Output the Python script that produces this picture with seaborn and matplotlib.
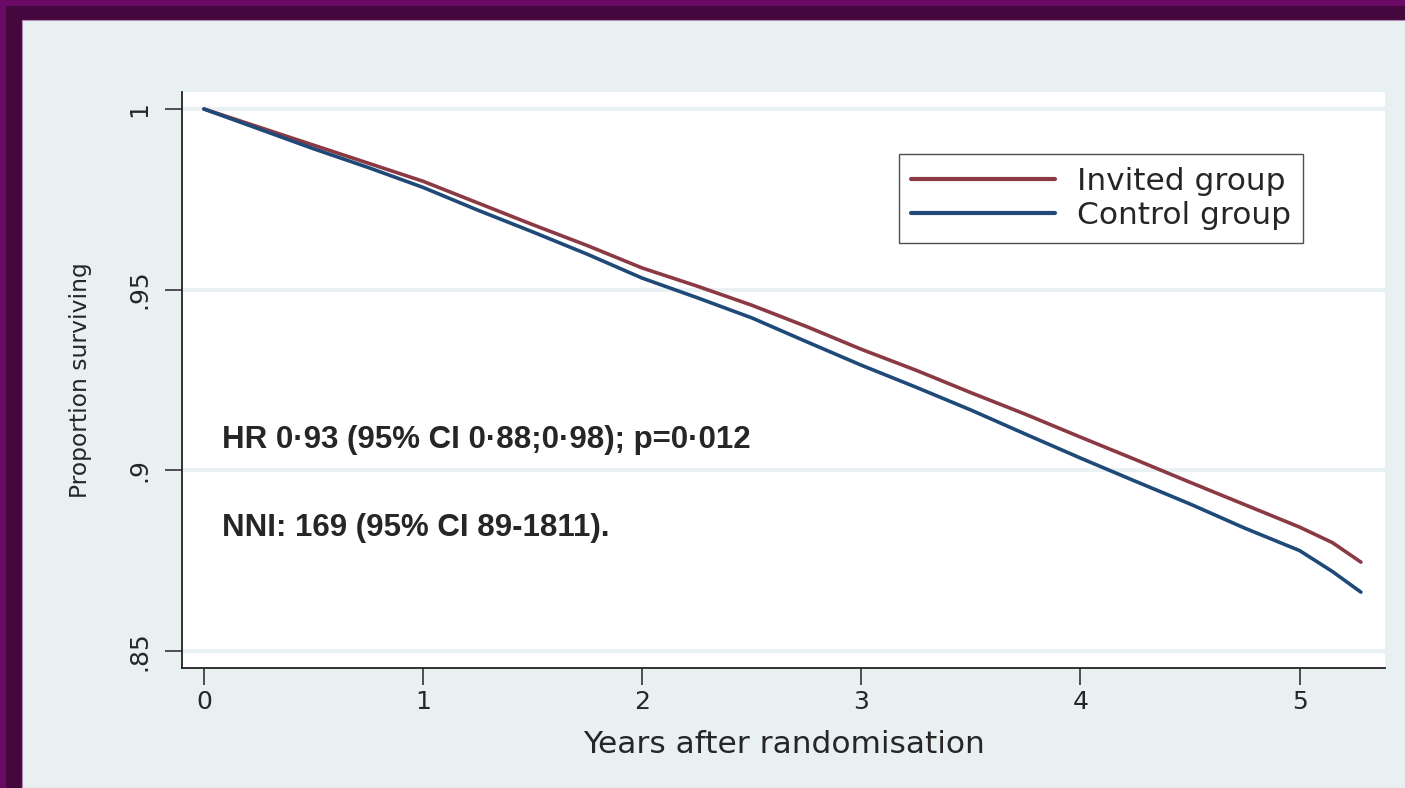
"""
Curvas de sobrevida - grupo convidado vs controle
"""

import pandas as pd
import seaborn as sns
import matplotlib.pyplot as plt
from matplotlib.patches import Rectangle

# valores
anos = [0, 0.25, 0.5, 0.75, 1, 1.25, 1.5, 1.75, 2, 2.25, 2.5, 2.75, 3,
        3.25, 3.5, 3.75, 4, 4.25, 4.5, 4.75, 5, 5.15, 5.28]
convidado = [1.000, 0.9950, 0.9900, 0.9850, 0.9800, 0.9740, 0.9680, 0.9622,
             0.9560, 0.9510, 0.9457, 0.9398, 0.9335, 0.9277, 0.9215, 0.9155,
             0.9092, 0.9030, 0.8967, 0.8905, 0.8843, 0.8800, 0.8746]
controle = [1.000, 0.9945, 0.9890, 0.9838, 0.9783, 0.9720, 0.9660, 0.9598,
            0.9532, 0.9478, 0.9422, 0.9356, 0.9291, 0.9230, 0.9167, 0.9100,
            0.9034, 0.8970, 0.8907, 0.8840, 0.8778, 0.8720, 0.8663]
grupos = ['Invited group', 'Control group']
yticks = [0.85, 0.9, 0.95, 1]
yticklabels = ['.85', '.9', '.95', '1']
xticks = [0, 1, 2, 3, 4, 5]

df = pd.DataFrame({
    'anos': anos * 2,
    'prop': convidado + controle,
    'grupo': [grupos[0]] * len(anos) + [grupos[1]] * len(anos)
})

sns.set_style('white')
plt.rcParams['font.family'] = ['DejaVu Sans']

fig = plt.figure(figsize=(14.05, 7.88), dpi=100)
fig.patch.set_facecolor('#44083f')
# moldura roxa + painel claro
fig.patches.append(Rectangle((0, 0), 1, 1, transform=fig.transFigure,
                             facecolor='#6b0a64', edgecolor='none', zorder=-3))
fig.patches.append(Rectangle((6 / 1405, 0), 1, 1 - 6 / 788, transform=fig.transFigure,
                             facecolor='#44083f', edgecolor='none', zorder=-2))
fig.patches.append(Rectangle((22 / 1405, 0), 1, 1 - 20 / 788, transform=fig.transFigure,
                             facecolor='#e8f0f2', edgecolor='#b08cb0', lw=0.8, zorder=-1))

ax = fig.add_axes([182 / 1405, 1 - 668 / 788, (1385 - 182) / 1405, (668 - 92) / 788])
ax.set_facecolor('white')

sns.lineplot(data=df, x='anos', y='prop', hue='grupo', ax=ax,
             palette={'Invited group': '#8b3a44', 'Control group': '#1f4a78'},
             linewidth=2.6, legend=True)

ax.set_xlim(-0.1, 5.39)
ax.set_ylim(0.8453, 1.0047)
ax.set_yticks(yticks)
ax.set_yticklabels(yticklabels, rotation=90, va='center')
ax.set_xticks(xticks)
ax.tick_params(axis='both', labelsize=18, length=12, width=1.2, direction='out',
               color='#333333', left=True, bottom=True)
ax.tick_params(axis='y', pad=10)
ax.grid(axis='y', color='#eaf1f3', linewidth=3)
ax.grid(axis='x', visible=False)
for s in ['top', 'right']:
    ax.spines[s].set_visible(False)
for s in ['left', 'bottom']:
    ax.spines[s].set_color('#222222')
    ax.spines[s].set_linewidth(1.3)

ax.set_xlabel('Years after randomisation', fontsize=22.5, labelpad=12)
ax.set_ylabel('Proportion surviving', fontsize=16.8)
ax.yaxis.set_label_coords(-0.075, 0.5)

leg = ax.legend(loc='upper right', bbox_to_anchor=(0.932, 0.892), fontsize=22.5,
                frameon=True, fancybox=False, edgecolor='#222222',
                handlelength=4.6, handletextpad=0.7, borderpad=0.4,
                labelspacing=0.18, borderaxespad=0)
leg.get_frame().set_linewidth(1.0)
for h in leg.get_lines():
    h.set_linewidth(3)

ax.text(0.082, 0.9084, 'HR 0·93 (95% CI 0·88;0·98); p=0·012', fontsize=22.5,
        fontweight='bold', family=['Liberation Sans', 'DejaVu Sans'],
        va='center')
ax.text(0.082, 0.884, 'NNI: 169 (95% CI 89-1811).', fontsize=22.5,
        fontweight='bold', family=['Liberation Sans', 'DejaVu Sans'],
        va='center')

plt.savefig('out.png', dpi=100, facecolor=fig.get_facecolor())
